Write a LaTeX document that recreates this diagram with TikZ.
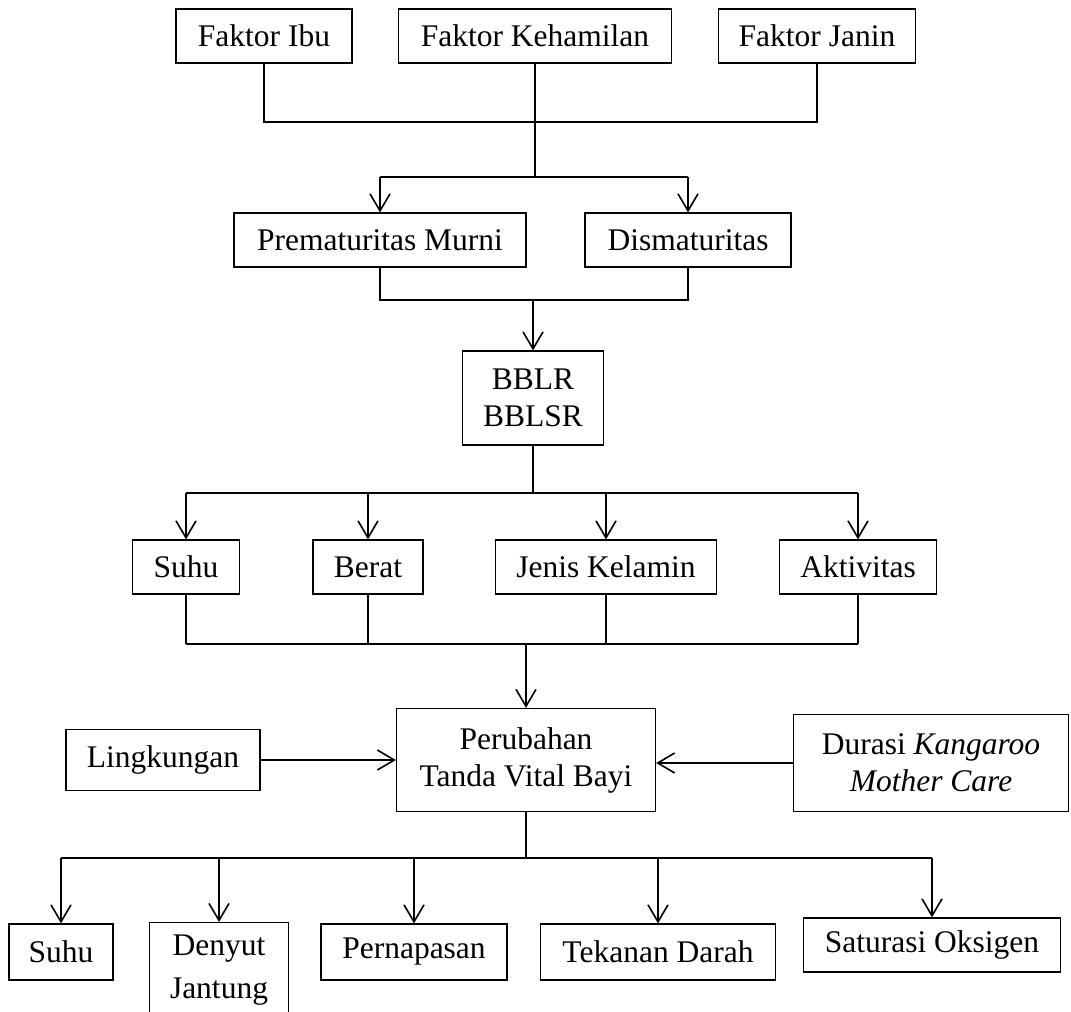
\documentclass[tikz,border=0pt]{standalone}
\usepackage{fontspec}
\setmainfont{Liberation Serif}
\usepackage{tikz}
\usetikzlibrary{arrows.meta,positioning}

\begin{document}
\begin{tikzpicture}[x=1pt, y=-1pt,
    kotak/.style={draw, line width=1.2pt, align=center, inner xsep=4pt, inner ysep=2pt,
        minimum height=54pt, font=\fontsize{31.5}{37}\selectfont},
    garis/.style={line width=1.6pt},
    panah/.style={line width=1.6pt, -{Straight Barb[length=17pt, width=20pt]}}]
    \clip (0,0) rectangle (1071,1012);

    % Faktor penyebab
    \node[kotak, minimum width=176pt] (ibu) at (264,36) {Faktor Ibu};
    \node[kotak, minimum width=273pt] (hamil) at (535,36) {Faktor Kehamilan};
    \node[kotak, minimum width=197pt] (janin) at (817,36) {Faktor Janin};

    % Jenis BBLR
    \node[kotak, minimum width=292pt] (prem) at (380,240) {Prematuritas Murni};
    \node[kotak, minimum width=206pt] (dism) at (688,240) {Dismaturitas};
    \node[kotak, minimum width=141pt, minimum height=94pt] (bblr) at (533,398) {BBLR\\BBLSR};

    % Karakteristik bayi
    \node[kotak, minimum width=107pt] (suhuA) at (186,567) {Suhu};
    \node[kotak, minimum width=110pt] (berat) at (368,567) {Berat};
    \node[kotak, minimum width=221pt] (jenis) at (606,567) {Jenis Kelamin};
    \node[kotak, minimum width=157pt] (aktiv) at (858,567) {Aktivitas};

    % Perubahan tanda vital
    \node[kotak, minimum width=259pt, minimum height=103pt] (ubah) at (526,760) {Perubahan\\Tanda Vital Bayi};
    \node[kotak, minimum width=194pt, minimum height=61pt] (ling) at (163,760) {Lingkungan};
    \node[kotak, minimum width=275pt, minimum height=97pt] (durasi) at (931,763)
        {Durasi \textit{Kangaroo}\\\textit{Mother Care}};

    % Tanda vital
    \node[kotak, minimum width=104pt, minimum height=56pt] (suhuB) at (61,952) {Suhu};
    \node[kotak, minimum width=139pt, anchor=north, inner ysep=12pt, text depth=70pt] (denyut) at (219,922)
        {Denyut\\[6pt]Jantung};
    \node[kotak, minimum width=186pt, minimum height=56pt] (napas) at (414,952) {Pernapasan};
    \node[kotak, minimum width=235pt, minimum height=56pt] (tekanan) at (658,952) {Tekanan Darah};
    \node[kotak, minimum width=257pt] (saturasi) at (932,945) {Saturasi Oksigen};

    % Garis faktor ke jenis
    \coordinate (gabung1) at (535,122);
    \coordinate (bagi1) at (535,177);
    \draw[garis] (ibu.south) |- (gabung1) -| (janin.south);
    \draw[garis] (hamil.south) -- (bagi1);
    \draw[garis] (prem.north |- bagi1) -- (dism.north |- bagi1);
    \draw[panah] (prem.north |- bagi1) -- (prem.north);
    \draw[panah] (dism.north |- bagi1) -- (dism.north);

    % Jenis ke BBLR
    \coordinate (gabung2) at (533,300);
    \draw[garis] (prem.south) |- (gabung2) -| (dism.south);
    \draw[panah] (gabung2) -- (bblr.north);

    % BBLR ke karakteristik
    \coordinate (bagi2) at (533,493);
    \draw[garis] (bblr.south) -- (bagi2);
    \draw[garis] (suhuA.north |- bagi2) -- (aktiv.north |- bagi2);
    \foreach \n in {suhuA,berat,jenis,aktiv}
        \draw[panah] (\n.north |- bagi2) -- (\n.north);

    % Karakteristik ke perubahan
    \coordinate (gabung3) at (526,644);
    \foreach \n in {suhuA,berat,jenis,aktiv}
        \draw[garis] (\n.south) -- (\n.south |- gabung3);
    \draw[garis] (suhuA.south |- gabung3) -- (aktiv.south |- gabung3);
    \draw[panah] (gabung3) -- (ubah.north);
    \draw[panah] (ling.east) -- (ling.east -| ubah.west);
    \draw[panah] (durasi.west) -- (durasi.west -| ubah.east);

    % Perubahan ke tanda vital
    \coordinate (bagi3) at (526,858);
    \draw[garis] (ubah.south) -- (bagi3);
    \draw[garis] (suhuB.north |- bagi3) -- (saturasi.north |- bagi3);
    \foreach \n in {suhuB,denyut,napas,tekanan,saturasi}
        \draw[panah] (\n.north |- bagi3) -- (\n.north);
\end{tikzpicture}
\end{document}
